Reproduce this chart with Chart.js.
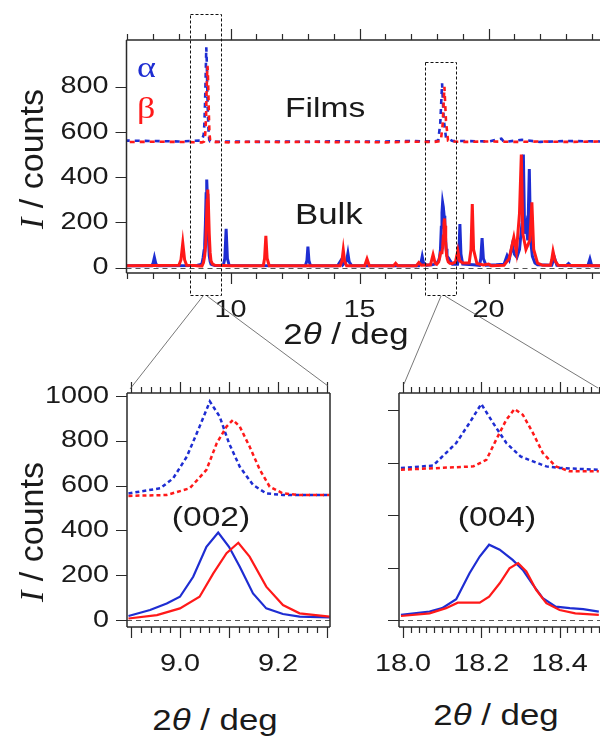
<!DOCTYPE html>
<html>
<head>
<meta charset="utf-8">
<script src="https://cdn.jsdelivr.net/npm/chart.js@4.4.1/dist/chart.umd.min.js"></script>
<style>
  html, body { margin: 0; padding: 0; background: #fff; }
  #fig { position: relative; width: 600px; height: 738px; overflow: hidden; font-family: "Liberation Sans", Arial, sans-serif; color: #1a1a1a; }
  canvas { position: absolute; }
  .lbl { position: absolute; white-space: nowrap; line-height: 1; transform: scaleX(1.2); }
  .mid { text-align: center; width: 200px; transform-origin: 50% 50%; }
  .lft { transform-origin: 0 50%; }
  .ytitle { position: absolute; width: 200px; height: 40px; line-height: 40px; text-align: center; font-size: 34px; transform: rotate(-90deg); white-space: nowrap; }
  .serif { font-family: "Liberation Serif", "Times New Roman", serif; }
  #overlay { position: absolute; left: 0; top: 0; }
</style>
</head>
<body>
<div id="fig">
  <canvas id="cTop" width="600" height="330" style="left:0;top:0"></canvas>
  <canvas id="c002" width="345" height="320" style="left:0;top:360px"></canvas>
  <canvas id="c004" width="255" height="320" style="left:345px;top:360px"></canvas>

  <div class="ytitle" style="left:-69px;top:139px"><span class="serif" style="font-style:italic">I</span> / counts</div>
  <div class="ytitle" style="left:-69px;top:512px"><span class="serif" style="font-style:italic">I</span> / counts</div>

  <div class="lbl lft serif" style="left:137px;top:52px;font-size:30px;color:rgb(30,45,210)">α</div>
  <div class="lbl lft serif" style="left:137px;top:93px;font-size:30px;color:rgb(255,25,25)">β</div>
  <div class="lbl lft" style="left:285px;top:94px;font-size:28px">Films</div>
  <div class="lbl lft" style="left:295px;top:200px;font-size:29px">Bulk</div>
  <div class="lbl mid" style="left:246px;top:320px;font-size:29px">2<i>θ</i> / deg</div>

  <div class="lbl mid" style="left:111px;top:503px;font-size:28px">(002)</div>
  <div class="lbl mid" style="left:397px;top:503px;font-size:28px">(004)</div>
  <div class="lbl mid" style="left:115px;top:706px;font-size:29px">2<i>θ</i> / deg</div>
  <div class="lbl mid" style="left:396px;top:701px;font-size:29px">2<i>θ</i> / deg</div>

  <svg id="overlay" width="600" height="738">
    <g fill="none" stroke="#111" stroke-width="1" stroke-dasharray="3,2">
      <rect x="190.5" y="14.5" width="31" height="281"/>
      <rect x="425.5" y="62.5" width="31" height="233"/>
    </g>
    <g stroke="#555" stroke-width="0.8">
      <line x1="203" y1="296" x2="130" y2="389"/>
      <line x1="207" y1="296" x2="328" y2="386"/>
      <line x1="441" y1="296" x2="404" y2="384"/>
      <line x1="445" y1="296" x2="598" y2="388"/>
    </g>
  </svg>
</div>

<script>
const blue = 'rgb(30,45,210)';
const red = 'rgb(255,25,25)';

// (002) reflection, [2theta, counts]
const alphaFilm002 = [[8.895,565],[8.96,588],[8.986,632],[9.014,729],[9.04,863],[9.061,975],[9.081,908],[9.10,789],[9.122,684],[9.149,603],[9.176,565],[9.21,558],[9.258,558],[9.305,558]];
const betaFilm002 = [[8.895,554],[8.973,558],[9.02,588],[9.054,670],[9.075,789],[9.095,863],[9.108,893],[9.122,863],[9.142,774],[9.163,670],[9.183,595],[9.21,565],[9.244,558],[9.305,558]];
const alphaBulk002 = [[8.895,18],[8.939,45],[8.973,74],[9.0,104],[9.027,193],[9.054,327],[9.078,390],[9.10,327],[9.122,238],[9.149,119],[9.176,52],[9.21,27],[9.244,15],[9.305,12]];
const betaBulk002 = [[8.895,7],[8.953,22],[9.0,52],[9.04,104],[9.068,208],[9.095,298],[9.119,345],[9.142,283],[9.176,149],[9.21,67],[9.244,30],[9.305,15]];

// (004) reflection
const alphaFilm004 = [[17.995,580],[18.077,589],[18.136,675],[18.17,752],[18.2,824],[18.23,752],[18.264,675],[18.30,624],[18.332,605],[18.366,586],[18.4,580],[18.5,573]];
const betaFilm004 = [[17.995,573],[18.18,586],[18.213,611],[18.238,688],[18.264,764],[18.285,805],[18.306,783],[18.332,713],[18.357,637],[18.39,586],[18.426,567],[18.5,567]];
const alphaBulk004 = [[17.995,19],[18.068,32],[18.10,45],[18.136,79],[18.17,178],[18.196,242],[18.22,287],[18.247,268],[18.28,229],[18.306,191],[18.332,134],[18.357,83],[18.39,51],[18.426,45],[18.46,41],[18.5,32]];
const betaBulk004 = [[17.995,15],[18.068,25],[18.11,45],[18.14,66],[18.196,66],[18.22,89],[18.247,140],[18.272,197],[18.294,217],[18.315,185],[18.34,115],[18.366,64],[18.4,38],[18.44,25],[18.5,19]];

// full pattern outside the (002) window
const alphaBulkWide = [[5.9,8],[6.95,8],[7.0,20],[7.05,45],[7.1,20],[7.15,8],[8.7,9],[8.85,14],
  [9.4,9],[9.72,9],[9.78,40],[9.83,171],[9.88,40],[9.95,9],[12.9,8],[12.96,30],[13.0,93],[13.04,30],[13.1,8],
  [14.15,8],[14.27,30],[14.35,12],[14.5,30],[14.55,63],[14.6,25],[14.7,8],[17.3,8],[17.38,20],[17.43,49],[17.48,20],[17.6,10],[17.8,12],[17.95,16],
  [18.6,15],[18.8,15],[18.85,60],[18.89,193],[18.93,60],[19.0,15],[19.4,12],[19.65,10],[19.7,40],[19.75,131],[19.8,40],[19.9,10],
  [20.3,12],[20.6,15],[20.72,53],[20.8,35],[20.92,100],[21.0,60],[21.1,45],[21.2,80],[21.3,200],[21.35,500],[21.4,150],[21.46,187],[21.52,120],[21.58,436],[21.63,120],[21.7,50],[21.8,20],[21.9,12],
  [22.45,10],[22.55,45],[22.65,10],[23.0,8],[23.1,18],[23.2,8],[23.85,8],[23.93,38],[24.0,8],[24.4,8]];
const betaBulkWide = [[5.9,8],[8.0,10],[8.08,35],[8.15,109],[8.22,35],[8.3,10],[8.6,9],[8.8,7],
  [9.4,10],[10.0,8],[11.27,8],[11.32,40],[11.37,141],[11.42,40],[11.5,8],[14.25,8],[14.32,30],[14.37,78],[14.42,30],[14.5,8],
  [15.2,8],[15.29,38],[15.38,8],[16.32,8],[16.4,19],[16.48,8],[17.2,8],[17.3,22],[17.4,10],[17.75,12],[17.85,57],[17.93,20],
  [18.6,18],[18.72,25],[18.81,75],[18.88,30],[19.0,20],[19.25,20],[19.32,80],[19.37,281],[19.42,80],[19.55,18],[19.8,12],[20.0,16],[20.1,8],
  [20.6,10],[20.8,40],[20.98,134],[21.08,70],[21.2,240],[21.27,500],[21.33,150],[21.45,80],[21.6,120],[21.68,289],[21.75,80],[21.9,20],[22.1,10],
  [22.4,10],[22.45,35],[22.5,72],[22.58,30],[22.7,10],[24.4,8]];
const alphaFilmWide = [[5.9,562],[7.0,560],[8.0,558],[8.85,562],[9.4,556],[10.0,558],[11.0,556],[12.0,558],[13.0,556],[14.0,559],[15.0,557],[16.0,558],[17.0,560],[17.9,558],
  [18.05,562],[18.13,640],[18.2,815],[18.26,660],[18.35,575],[18.6,560],[19.0,560],[20.0,558],[20.5,570],[20.6,556],[21.3,565],[22.0,556],[23.0,560],[24.4,558]];
const betaFilmWide = [[5.9,555],[7.0,557],[8.0,556],[8.85,554],[9.4,556],[10.0,554],[11.0,557],[12.0,555],[13.0,557],[14.0,555],[15.0,556],[16.0,554],[17.0,557],[17.9,556],
  [18.15,560],[18.22,630],[18.29,800],[18.35,650],[18.43,562],[18.6,558],[19.0,556],[20.0,558],[21.0,556],[22.0,558],[23.0,556],[24.4,558]];

const topXLabels = [10, 15, 20];
const topYLabels = [0, 200, 400, 600, 800];
const x002Labels = [9.0, 9.2];
const y002Labels = [0, 200, 400, 600, 800, 1000];
const x004Labels = [18.0, 18.2, 18.4];
const y004Ticks = [0, 200, 400, 600, 800];

const merge = (...parts) => [].concat(...parts).sort((a, b) => a[0] - b[0]);

// axis box, outward ticks and stretched tick labels
const axisFrame = {
  id: 'axisFrame',
  beforeDatasetsDraw(chart) {
    const { ctx, chartArea: a, scales: { y } } = chart;
    const y0 = Math.round(y.getPixelForValue(0)) + 0.5;
    ctx.save();
    ctx.strokeStyle = '#555';
    ctx.lineWidth = 1.2;
    ctx.setLineDash([5, 4]);
    ctx.beginPath(); ctx.moveTo(a.left, y0); ctx.lineTo(a.right, y0); ctx.stroke();
    ctx.restore();
  },
  afterDatasetsDraw(chart, args, o) {
    const { ctx, chartArea: a, scales: { x, y } } = chart;
    ctx.save();
    ctx.strokeStyle = '#2a2a2a';
    ctx.fillStyle = '#1a1a1a';
    ctx.lineWidth = 1.5;
    ctx.beginPath();
    ctx.moveTo(a.left, a.top); ctx.lineTo(a.right, a.top);
    ctx.moveTo(a.left, a.bottom); ctx.lineTo(a.right, a.bottom);
    ctx.moveTo(a.left, a.top); ctx.lineTo(a.left, a.bottom);
    if (o.right) { ctx.moveTo(a.right, a.top); ctx.lineTo(a.right, a.bottom); }
    ctx.stroke();

    ctx.lineWidth = 1.2;
    ctx.beginPath();
    const first = Math.ceil(x.min / o.minor - 1e-6);
    for (let i = first; i * o.minor <= x.max + 1e-9; i++) {
      const v = i * o.minor;
      const r = v / o.major;
      const len = Math.abs(r - Math.round(r)) < 1e-6 ? 11 : 6;
      const px = Math.round(x.getPixelForValue(v)) + 0.5;
      ctx.moveTo(px, a.top); ctx.lineTo(px, a.top - len);
      ctx.moveTo(px, a.bottom); ctx.lineTo(px, a.bottom + len);
    }
    o.yTicks.forEach(v => {
      const py = Math.round(y.getPixelForValue(v)) + 0.5;
      ctx.moveTo(a.left, py); ctx.lineTo(a.left - 11, py);
    });
    ctx.stroke();

    ctx.font = '24px "Liberation Sans", Arial, sans-serif';
    ctx.textBaseline = 'middle';
    const put = (txt, px, py, align) => {
      ctx.save();
      ctx.translate(px, py);
      ctx.scale(1.2, 1);
      ctx.textAlign = align;
      ctx.fillText(txt, 0, 0);
      ctx.restore();
    };
    o.xLabels.forEach(v => put(v.toFixed(o.digits), x.getPixelForValue(v), a.bottom + 37, 'center'));
    (o.yLabels || []).forEach(v => put(String(v), a.left - 18, y.getPixelForValue(v), 'right'));
    ctx.restore();
  }
};

function line(data, color, extra = {}) {
  return { data, borderColor: color, borderWidth: 2.2, pointRadius: 0, tension: 0, ...extra };
}

function makeChart(id, datasets, xRange, yRange, padding, frame) {
  return new Chart(document.getElementById(id), {
    type: 'line',
    data: { datasets },
    options: {
      responsive: false,
      animation: false,
      devicePixelRatio: 1,
      layout: { padding },
      scales: {
        x: { type: 'linear', min: xRange[0], max: xRange[1], display: false },
        y: { type: 'linear', min: yRange[0], max: yRange[1], display: false }
      },
      plugins: { legend: { display: false }, tooltip: { enabled: false }, axisFrame: frame }
    },
    plugins: [axisFrame]
  });
}

makeChart('cTop', [
  line(merge(betaBulkWide, betaBulk002, betaBulk004), red, { borderWidth: 3 }),
  line(merge(alphaBulkWide, alphaBulk002, alphaBulk004), blue, { borderWidth: 3 }),
  line(merge(betaFilmWide, betaFilm002), red, { borderWidth: 2.6, borderDash: [5, 5], borderDashOffset: 5 }),
  line(merge(alphaFilmWide, alphaFilm002), blue, { borderWidth: 2.6, borderDash: [5, 5] })
], [5.969, 24.32], [-24, 1007], { left: 126.5, top: 40, right: 0, bottom: 57 },
  { minor: 1, major: 5, digits: 0, xLabels: topXLabels, yTicks: topYLabels, yLabels: topYLabels, right: false });

makeChart('c002', [
  line(betaBulk002, red),
  line(alphaBulk002, blue),
  line(betaFilm002, red, { borderWidth: 2.5, borderDash: [4, 3] }),
  line(alphaFilm002, blue, { borderWidth: 2.5, borderDash: [4, 3] })
], [8.892, 9.306], [-31, 1013], { left: 127, top: 33, right: 15, bottom: 53 },
  { minor: 0.02, major: 0.1, digits: 1, xLabels: x002Labels, yTicks: y002Labels, yLabels: y002Labels, right: true });

makeChart('c004', [
  line(betaBulk004, red),
  line(alphaBulk004, blue),
  line(betaFilm004, red, { borderWidth: 2.5, borderDash: [4, 3] }),
  line(alphaFilm004, blue, { borderWidth: 2.5, borderDash: [4, 3] })
], [17.99, 18.503], [-27, 866], { left: 54, top: 33, right: 0, bottom: 53 },
  { minor: 0.02, major: 0.2, digits: 1, xLabels: x004Labels, yTicks: y004Ticks, right: false });
</script>
</body>
</html>
